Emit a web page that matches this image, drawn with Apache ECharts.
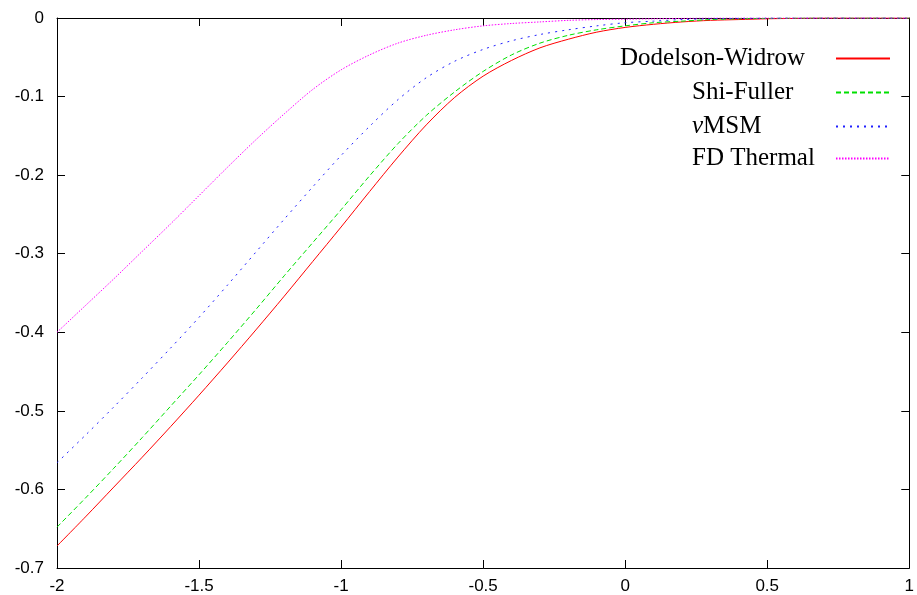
<!DOCTYPE html>
<html><head><meta charset="utf-8">
<script src="https://cdn.jsdelivr.net/npm/echarts@6/dist/echarts.min.js"></script>
<style>html,body{margin:0;padding:0;background:#fff}#c{width:917px;height:595px}</style>
</head><body><div id="c"></div>
<script>
const xValues = [-2.0,-1.9,-1.8,-1.7,-1.6,-1.5,-1.4,-1.3,-1.2,-1.1,-1.0,-0.9,-0.8,-0.7,-0.6,-0.5,-0.4,-0.3,-0.2,-0.1,0.0,0.1,0.2,0.3,0.4,0.5,0.6,0.7,0.8,0.9,1.0];
const dodelsonWidrow = [-0.672,-0.635,-0.597,-0.559,-0.520,-0.480,-0.439,-0.397,-0.354,-0.310,-0.266,-0.221,-0.177,-0.136,-0.101,-0.074,-0.054,-0.038,-0.027,-0.018,-0.012,-0.008,-0.005,-0.003,-0.002,-0.001,-0.0005,0,0,0,0];
const shiFuller = [-0.648,-0.611,-0.573,-0.534,-0.494,-0.454,-0.413,-0.371,-0.328,-0.286,-0.244,-0.201,-0.160,-0.124,-0.094,-0.068,-0.047,-0.032,-0.022,-0.015,-0.010,-0.006,-0.004,-0.002,-0.001,-0.0005,0,0,0,0,0];
const nuMSM = [-0.566,-0.531,-0.495,-0.458,-0.420,-0.381,-0.340,-0.298,-0.256,-0.215,-0.175,-0.138,-0.104,-0.076,-0.055,-0.040,-0.029,-0.021,-0.015,-0.010,-0.006,-0.004,-0.002,-0.001,-0.0005,0,0,0,0,0,0];
const fdThermal = [-0.400,-0.366,-0.332,-0.297,-0.262,-0.226,-0.190,-0.155,-0.122,-0.091,-0.066,-0.047,-0.032,-0.022,-0.015,-0.010,-0.007,-0.005,-0.003,-0.002,-0.0015,-0.001,-0.0005,0,0,0,0,0,0,0,0];
const seriesNames = ['Dodelson-Widrow','Shi-Fuller','νMSM','FD Thermal'];
const seriesValues = [dodelsonWidrow, shiFuller, nuMSM, fdThermal];

const colors = ['#ff0000','#00e000','#2020ff','#ff00ff'];
const dashes = ['solid',[5,3],[2,5],[1.5,1.5]];
const legendLeft = [620, 692, 692, 692];
const legendTop = [46, 80, 114, 146];
const legendTextWidth = [211, 139, 139, 139];

const chart = echarts.init(document.getElementById('c'), null, {renderer:'canvas'});
const axisFont = {fontFamily:'Liberation Sans', fontSize:17, color:'#000'};
function xAx(pos, show){
  return {type:'value', position:pos, min:-2, max:1, interval:0.5,
    axisLine:{show:true, onZero:false, lineStyle:{color:'#000',width:1}},
    axisTick:{show:true, inside:true, length:8, lineStyle:{color:'#000'}},
    axisLabel:Object.assign({show:show, margin:10}, axisFont),
    splitLine:{show:false}};
}
function yAx(pos, show){
  return {type:'value', position:pos, min:-0.7, max:0, interval:0.1,
    axisLine:{show:true, onZero:false, lineStyle:{color:'#000',width:1}},
    axisTick:{show:true, inside:true, length:8, lineStyle:{color:'#000'}},
    axisLabel:Object.assign({show:show, margin:13}, axisFont),
    splitLine:{show:false}};
}
const legends = seriesNames.map((n,i)=>({
  data:[n], left:legendLeft[i], top:legendTop[i], orient:'vertical', align:'right',
  itemWidth:54, itemHeight:1, selectedMode:false, padding:0,
  itemStyle:{opacity:0, borderWidth:0},
  formatter: (name)=> name === 'νMSM' ? '{i|ν}{a|MSM}' : '{a|' + name + '}',
  textStyle:{fontFamily:'Liberation Serif', fontSize:25, color:'#000', width:legendTextWidth[i],
    rich:{a:{align:'left', fontFamily:'Liberation Serif', fontSize:25, color:'#000'},
          i:{align:'left', fontFamily:'Liberation Serif', fontStyle:'italic', fontSize:25, color:'#000'}}}
}));
chart.setOption({
  animation:false,
  backgroundColor:'#fff',
  grid:{left:57, right:4, top:18, bottom:26, containLabel:false},
  xAxis:[xAx('bottom', true), xAx('top', false)],
  yAxis:[yAx('left', true), yAx('right', false)],
  legend:legends,
  series: seriesNames.map((n,i)=>({
    name:n, type:'line', xAxisIndex:0, yAxisIndex:0, showSymbol:false, symbol:'none', smooth:0.3,
    data: xValues.map((x,k)=>[x, seriesValues[i][k]]),
    lineStyle:{color:colors[i], width:1, type:dashes[i]}, itemStyle:{color:colors[i]}, z:3
  }))
});
</script></body></html>
